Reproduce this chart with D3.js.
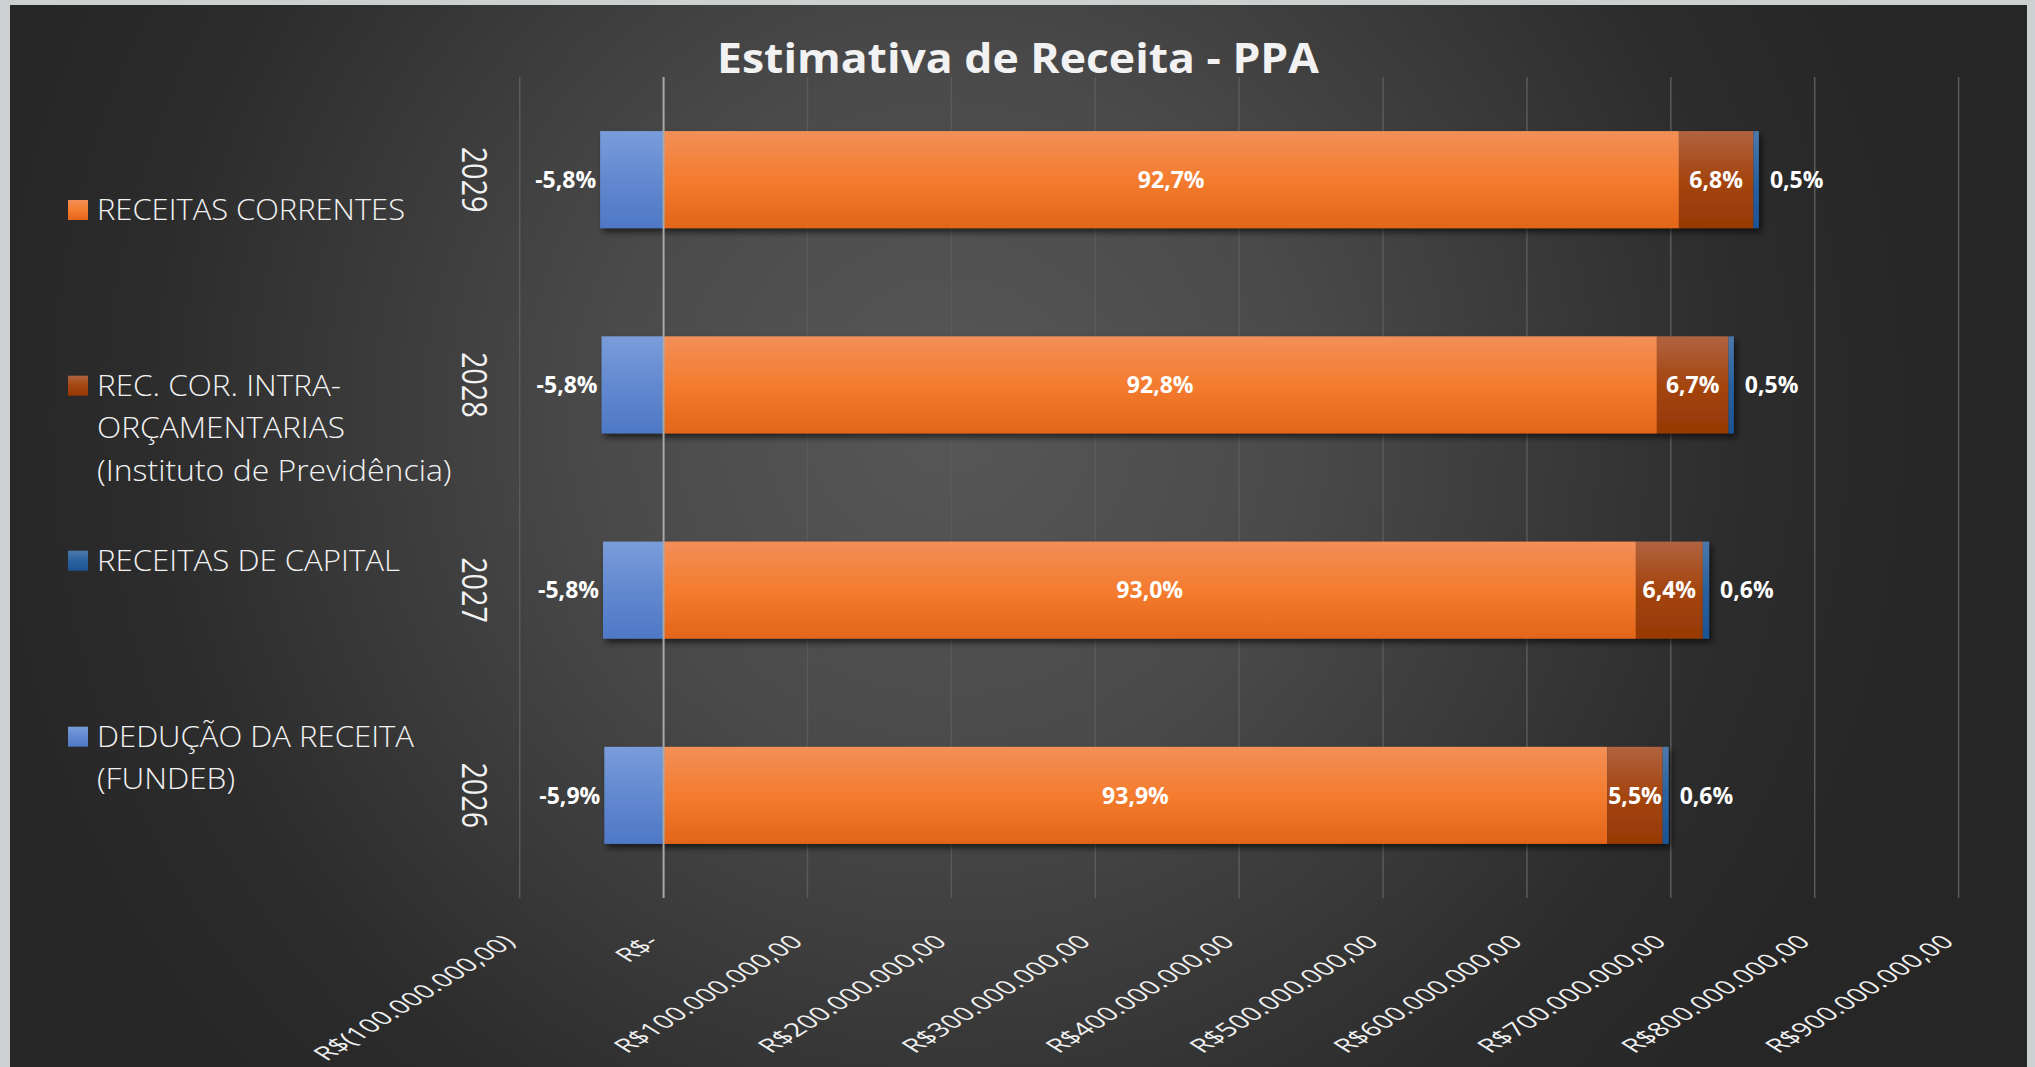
<!DOCTYPE html>
<html>
<head>
<meta charset="utf-8">
<script src="https://cdn.jsdelivr.net/npm/d3@7"></script>
<style>
  html, body { margin: 0; padding: 0; background: #cdd0d0; }
  svg { display: block; }
</style>
</head>
<body>
<svg id="chart" width="2035" height="1067"></svg>
<script>
// ---------------- DATA (R$ milhões) ----------------
const years = ["2026", "2027", "2028", "2029"];
const receitasCorrentes = [655.9, 675.7, 690.3, 705.6];
const recCorIntra = [38.4, 46.5, 49.8, 51.8];
const receitasCapital = [4.2, 4.4, 3.7, 3.8];
const deducaoReceita = [-41.2, -42.1, -43.1, -44.1];

const tickValues = [-100, 0, 100, 200, 300, 400, 500, 600, 700, 800, 900];
const tickLabels = ["R$(100.000.000,00)", "R$-", "R$100.000.000,00", "R$200.000.000,00",
  "R$300.000.000,00", "R$400.000.000,00", "R$500.000.000,00", "R$600.000.000,00",
  "R$700.000.000,00", "R$800.000.000,00", "R$900.000.000,00"];

const legendLabels = [
  ["RECEITAS CORRENTES"],
  ["REC. COR. INTRA-", "ORÇAMENTARIAS", "(Instituto de Previdência)"],
  ["RECEITAS DE CAPITAL"],
  ["DEDUÇÃO DA RECEITA", "(FUNDEB)"]
];
const titleText = "Estimativa de Receita - PPA";

// ---------------- SETUP ----------------
const svg = d3.select("#chart");
const W = 2035, H = 1067;
const defs = svg.append("defs");

const bg = defs.append("radialGradient").attr("id", "bg")
  .attr("gradientUnits", "userSpaceOnUse")
  .attr("cx", 950).attr("cy", 420).attr("r", 1000);
bg.append("stop").attr("offset", 0).attr("stop-color", "#575757");
bg.append("stop").attr("offset", 0.35).attr("stop-color", "#4a4a4a");
bg.append("stop").attr("offset", 0.8).attr("stop-color", "#2c2c2c");
bg.append("stop").attr("offset", 1).attr("stop-color", "#262626");

function vgrad(id, top, mid, bot) {
  const g = defs.append("linearGradient").attr("id", id)
    .attr("x1", 0).attr("y1", 0).attr("x2", 0).attr("y2", 1);
  g.append("stop").attr("offset", 0).attr("stop-color", top);
  g.append("stop").attr("offset", 0.5).attr("stop-color", mid);
  g.append("stop").attr("offset", 1).attr("stop-color", bot);
}
vgrad("gOrange", "#f28f58", "#f47c2f", "#e36519");
vgrad("gBrown", "#b06340", "#a4450f", "#963904");
vgrad("gCap", "#4c79ab", "#2a62a0", "#1d5393");
vgrad("gDed", "#7a9cda", "#6289d0", "#4e78c5");

const sh = defs.append("filter").attr("id", "shadow")
  .attr("x", "-10%").attr("y", "-20%").attr("width", "130%").attr("height", "160%");
sh.append("feDropShadow").attr("dx", 3).attr("dy", 4).attr("stdDeviation", 3)
  .attr("flood-color", "#000").attr("flood-opacity", 0.6);

svg.append("rect").attr("x", 0).attr("y", 0).attr("width", W).attr("height", H).attr("fill", "#cdd0d0");
svg.append("rect").attr("x", 10).attr("y", 5).attr("width", 2017).attr("height", H - 5).attr("fill", "url(#bg)");

// ---------------- SCALES ----------------
const x = d3.scaleLinear().domain([-100, 900]).range([519.7, 1958.6]);
const y = d3.scaleBand().domain(years.slice().reverse()).range([77, 898])
  .paddingInner(0.527).paddingOuter(0.2635);

// gridlines
svg.append("g").selectAll("line").data(tickValues.filter(v => v !== 0)).join("line")
  .attr("x1", d => x(d)).attr("x2", d => x(d))
  .attr("y1", 77).attr("y2", 898)
  .attr("stroke", "#5a5a5a").attr("stroke-width", 1.5);

// ---------------- BARS ----------------
const rows = years.map((yr, i) => {
  const total = receitasCorrentes[i] + recCorIntra[i] + receitasCapital[i];
  const segs = [
    { key: "ded", x0: deducaoReceita[i], x1: 0, v: deducaoReceita[i], fill: "url(#gDed)" },
    { key: "rc", x0: 0, x1: receitasCorrentes[i], v: receitasCorrentes[i], fill: "url(#gOrange)" },
    { key: "intra", x0: receitasCorrentes[i], x1: receitasCorrentes[i] + recCorIntra[i], v: recCorIntra[i], fill: "url(#gBrown)" },
    { key: "cap", x0: receitasCorrentes[i] + recCorIntra[i], x1: total, v: receitasCapital[i], fill: "url(#gCap)" }
  ];
  return { yr, total, segs };
});

const barG = svg.append("g").selectAll("g").data(rows).join("g")
  .attr("filter", "url(#shadow)");
barG.selectAll("rect").data(d => d.segs.map(s => ({ ...s, yr: d.yr }))).join("rect")
  .attr("x", d => x(d.x0))
  .attr("width", d => x(d.x1) - x(d.x0))
  .attr("y", d => y(d.yr))
  .attr("height", y.bandwidth())
  .attr("fill", d => d.fill);

// zero axis line
svg.append("line").attr("x1", x(0)).attr("x2", x(0)).attr("y1", 77).attr("y2", 898)
  .attr("stroke", "#a8a8a8").attr("stroke-width", 2);

// ---------------- DATA LABELS ----------------
const fmtPct = v => d3.format(".1f")(v).replace("\u2212", "-").replace(".", ",") + "%";
const labG = svg.append("g")
  .attr("font-family", "'Open Sans', 'DejaVu Sans', sans-serif")
  .attr("font-weight", 700).attr("font-size", 23).attr("fill", "#ffffff");
rows.forEach(r => {
  const cy = y(r.yr) + y.bandwidth() / 2;
  r.segs.forEach(s => {
    const pct = fmtPct(s.v / r.total * 100);
    let tx, anchor;
    if (s.key === "ded") { tx = x(s.x0) - 4; anchor = "end"; }
    else if (s.key === "cap") { tx = x(s.x1) + 11; anchor = "start"; }
    else { tx = (x(s.x0) + x(s.x1)) / 2; anchor = "middle"; }
    labG.append("text").attr("x", tx).attr("y", cy).attr("dy", "0.36em")
      .attr("text-anchor", anchor).text(pct);
  });
});

// ---------------- Y (year) LABELS ----------------
svg.append("g").selectAll("text").data(years).join("text")
  .attr("transform", d => `translate(462,${y(d) + y.bandwidth() / 2}) rotate(90)`)
  .attr("text-anchor", "middle")
  .attr("font-family", "'Open Sans', sans-serif").attr("font-size", 34)
  .attr("textLength", 66).attr("lengthAdjust", "spacingAndGlyphs")
  .attr("fill", "#f2f2f2").text(d => d);

// ---------------- X TICK LABELS ----------------
svg.append("g").selectAll("text").data(tickValues).join("text")
  .attr("transform", d => `translate(${x(d) - 3},943) scale(1.6,1) rotate(-45)`)
  .attr("text-anchor", "end")
  .attr("font-family", "'Open Sans', sans-serif").attr("font-size", 19)
  .attr("fill", "#f0f0f0")
  .text((d, i) => tickLabels[i]);

// ---------------- TITLE ----------------
svg.append("text").attr("x", 1018).attr("y", 72.7).attr("text-anchor", "middle")
  .attr("font-family", "'Open Sans', sans-serif").attr("font-weight", 700)
  .attr("font-size", 41).attr("fill", "#f2f2f2")
  .attr("textLength", 602).attr("lengthAdjust", "spacingAndGlyphs")
  .text(titleText);

// ---------------- LEGEND ----------------
const legendFills = ["url(#gOrange)", "url(#gBrown)", "url(#gCap)", "url(#gDed)"];
const legendBase = [220, 395.7, 570.7, 746.7];
const lineWidths = [[308], [244, 248, 354.5], [303], [317, 138]];
const legG = svg.append("g");
legendLabels.forEach((lines, i) => {
  legG.append("rect").attr("x", 68).attr("y", legendBase[i] - 20).attr("width", 20).attr("height", 20)
    .attr("fill", legendFills[i]);
  lines.forEach((ln, j) => {
    legG.append("text").attr("x", 97).attr("y", legendBase[i] + j * 42.5)
      .attr("font-family", "'Open Sans', sans-serif").attr("font-weight", 300)
      .attr("font-size", 30).attr("fill", "#f2f2f2")
      .attr("textLength", lineWidths[i][j]).attr("lengthAdjust", "spacingAndGlyphs")
      .text(ln);
  });
});
</script>
</body>
</html>
